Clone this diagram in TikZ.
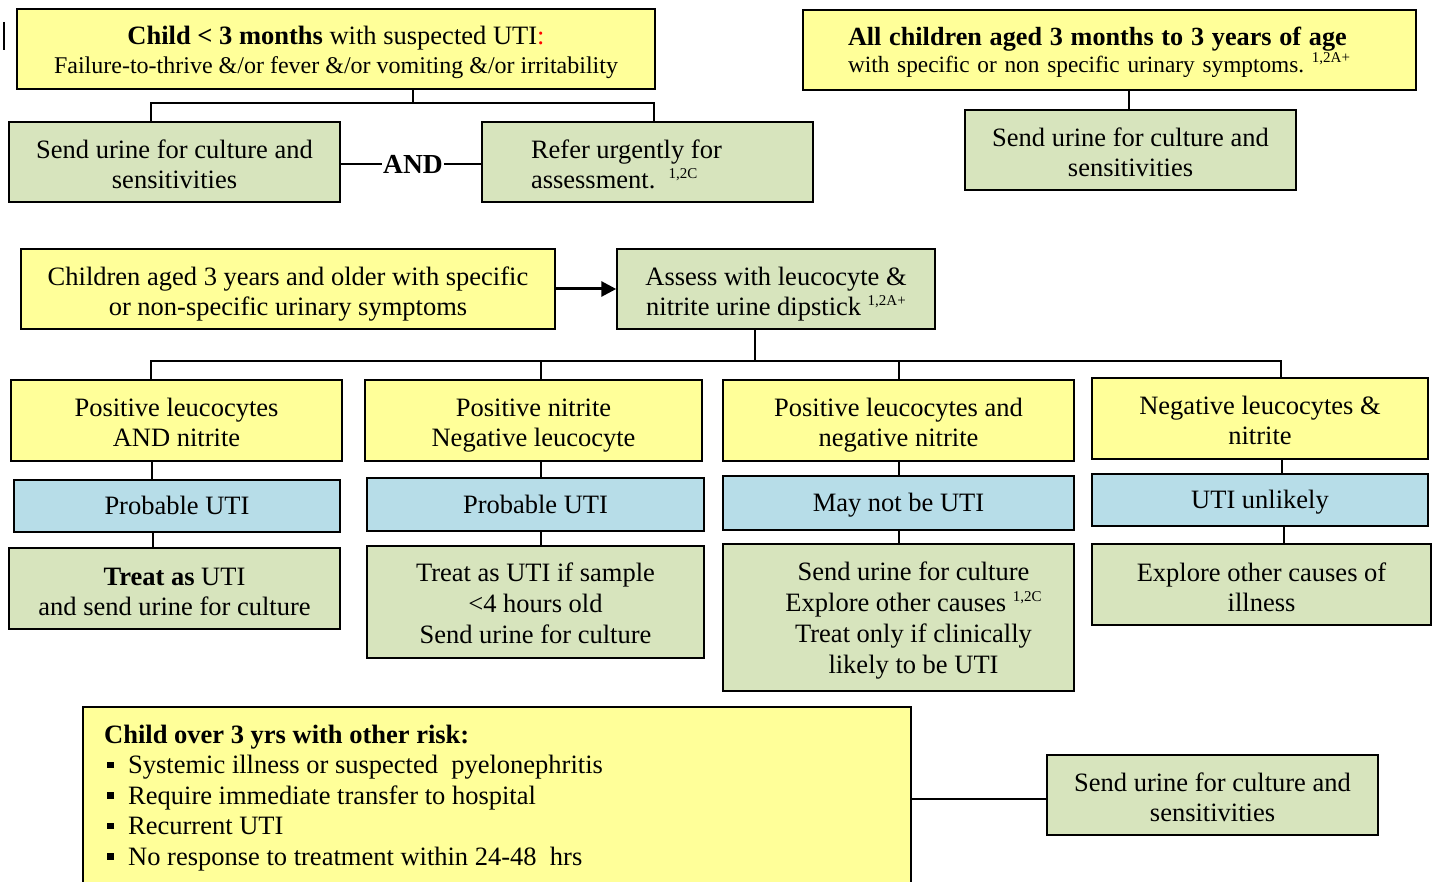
\documentclass[tikz,border=0pt]{standalone}
\usepackage{fontspec}
\setmainfont{Liberation Serif}
\usetikzlibrary{arrows.meta,shadows,calc}
\definecolor{yel}{HTML}{FFFF99}
\definecolor{grn}{HTML}{D7E4BD}
\definecolor{blu}{HTML}{B7DDE8}
\newcommand{\sups}[1]{{\fontsize{15}{15}\selectfont\raisebox{10pt}[0pt][0pt]{#1}}}
\newcommand{\bulsq}{\raisebox{5.5pt}{\rule{6.5pt}{6.5pt}}}
\newcommand{\tabC}[2][32pt]{\begin{tabular}{@{}c@{}}\rule{0pt}{#1}#2\end{tabular}}
\newcommand{\tabL}[2][32pt]{\begin{tabular}{@{}l@{}}\rule{0pt}{#1}#2\end{tabular}}
\begin{document}
\begin{tikzpicture}[x=1pt,y=-1pt,
  box/.style={draw=black, line width=1.5pt, inner sep=0pt,
    font=\fontsize{26.5}{30}\selectfont,
    drop shadow={shadow xshift=1.2pt, shadow yshift=-1.2pt, fill=black!40, opacity=1}},
  ybox/.style={box, fill=yel},
  gbox/.style={box, fill=grn},
  bbox/.style={box, fill=blu, execute at begin node={\rule{0pt}{26pt}}, execute at end node=\strut},
  conn/.style={line width=1.3pt}]
\useasboundingbox (0,0) rectangle (1438,882);
\clip (0,0) rectangle (1438,882);

% cursor mark
\draw[conn] (4,22) -- (4,50);

% ---------- top left ----------
\node[ybox, minimum width=638pt, minimum height=80pt, font=\fontsize{24}{29}\selectfont] (tl) at (336,49)
  {\tabC[29.7pt]{{\fontsize{26.5}{29}\selectfont\textbf{Child < 3 months} with suspected UTI{\color{red}:}}\\Failure-to-thrive \&/or fever \&/or vomiting \&/or irritability}};
\node[gbox, minimum width=331pt, minimum height=80pt] (g1) at (174.5,162)
  {\tabC{Send urine for culture and\\sensitivities}};
\node[gbox, minimum width=331pt, minimum height=80pt] (g2) at (647.5,162)
  {\tabL{\makebox[233pt][l]{Refer urgently for}\\assessment.\ \ \sups{1,2C}}};
\node[font=\fontsize{27.5}{30}\selectfont\bfseries, inner sep=1pt] (and) at (413,164) {AND};
\coordinate (tbus) at (0,103);
\draw[conn] ([xshift=77pt]tl.south) -- ([xshift=77pt]tl.south |- tbus);
\draw[conn] ([xshift=-23.5pt]g1.north) -- ([xshift=-23.5pt]g1.north |- tbus)
  -- ([xshift=6.5pt]g2.north |- tbus) -- ([xshift=6.5pt]g2.north);
\draw[conn] (g1.east |- and.west) -- (and.west);
\draw[conn] (and.east) -- (g2.west |- and.east);

% ---------- top right ----------
\node[ybox, minimum height=80pt, text width=523pt, inner xsep=45pt, inner ysep=0pt, align=left,
  font=\fontsize{23.3}{27}\selectfont,
  execute at begin node={\rule{0pt}{27pt}}, execute at end node=\strut] (tr) at (1109.5,50)
  {{\fontsize{26.2}{27}\selectfont\textbf{All children aged 3 months to 3 years of age}}\\with specific or non specific urinary symptoms.\ \sups{1,2A+}};
\node[gbox, minimum width=331pt, minimum height=80pt] (g3) at (1130.5,150)
  {\tabC{Send urine for culture and\\sensitivities}};
\draw[conn] ([xshift=-1.5pt]g3.north |- tr.south) -- ([xshift=-1.5pt]g3.north);

% ---------- middle ----------
\node[ybox, minimum width=534pt, minimum height=80pt] (y3) at (288,289)
  {\tabC{Children aged 3 years and older with specific\\or non-specific urinary symptoms}};
\node[gbox, minimum width=318pt, minimum height=80pt] (g4) at (776,289)
  {\tabC{Assess with leucocyte \&\\nitrite urine dipstick \sups{1,2A+}}};
\draw[line width=3pt, -{Triangle[length=15pt,width=15pt]}] (y3.east) -- (g4.west);

% ---------- row ----------
\node[ybox, minimum width=331pt, minimum height=81pt] (ya) at (176.5,420.5)
  {\tabC{Positive leucocytes\\AND nitrite}};
\node[ybox, minimum width=337pt, minimum height=81pt] (yb) at (533.5,420.5)
  {\tabC{Positive nitrite\\Negative leucocyte}};
\node[ybox, minimum width=351pt, minimum height=81pt] (yc) at (898.5,420.5)
  {\tabC{Positive leucocytes and\\negative nitrite}};
\node[ybox, minimum width=336pt, minimum height=81pt] (yd) at (1260,418.5)
  {\tabC{Negative leucocytes \&\\nitrite}};

\node[bbox, minimum width=326pt, minimum height=52pt] (ba) at (177,506) {Probable UTI};
\node[bbox, minimum width=337pt, minimum height=53pt] (bb) at (535.5,504.5) {Probable UTI};
\node[bbox, minimum width=351pt, minimum height=54pt] (bc) at (898.5,503) {May not be UTI};
\node[bbox, minimum width=336pt, minimum height=52pt] (bd) at (1260,500) {UTI unlikely};

\node[gbox, minimum width=331pt, minimum height=81pt] (ga) at (174.5,588.5)
  {\tabC{\textbf{Treat as} UTI\\and send urine for culture}};
\node[gbox, minimum width=337pt, minimum height=112pt, font=\fontsize{26.5}{31}\selectfont] (gb) at (535.5,602)
  {\tabC[30.5pt]{Treat as UTI if sample\\<4 hours old\\Send urine for culture}};
\node[gbox, minimum width=351pt, minimum height=147pt, font=\fontsize{26.5}{31}\selectfont] (gc) at (898.5,617.5)
  {\hspace*{30pt}\raisebox{-3pt}[\height][\depth]{\begin{tabular}{@{}c@{}}Send urine for culture\\Explore other causes\ \sups{1,2C}\\Treat only if clinically\\likely to be UTI\end{tabular}}};
\node[gbox, minimum width=339pt, minimum height=81pt] (gd) at (1261.5,584.5)
  {\tabC{Explore other causes of\\illness}};

\coordinate (bus) at (0,361);
\draw[conn] ([xshift=-21pt]g4.south) -- ([xshift=-21pt]g4.south |- bus);
\draw[conn] ([xshift=-25.5pt]ya.north) -- ([xshift=-25.5pt]ya.north |- bus)
  -- ([xshift=21pt]yd.north |- bus) -- ([xshift=21pt]yd.north);
\draw[conn] ([xshift=7.5pt]yb.north) -- ([xshift=7.5pt]yb.north |- bus);
\draw[conn] ([xshift=0.5pt]yc.north) -- ([xshift=0.5pt]yc.north |- bus);

\draw[conn] ([xshift=-24.5pt]ya.south) -- ([xshift=-24.5pt]ya.south |- ba.north);
\draw[conn] ([xshift=-24pt]ba.south) -- ([xshift=-24pt]ba.south |- ga.north);
\draw[conn] ([xshift=7.5pt]yb.south) -- ([xshift=7.5pt]yb.south |- bb.north);
\draw[conn] ([xshift=5.5pt]bb.south) -- ([xshift=5.5pt]bb.south |- gb.north);
\draw[conn] ([xshift=0.5pt]yc.south) -- ([xshift=0.5pt]yc.south |- bc.north);
\draw[conn] ([xshift=0.5pt]bc.south) -- ([xshift=0.5pt]bc.south |- gc.north);
\draw[conn] ([xshift=22pt]yd.south) -- ([xshift=22pt]yd.south |- bd.north);
\draw[conn] ([xshift=24pt]bd.south) -- ([xshift=24pt]bd.south |- gd.north);

% ---------- bottom ----------
\node[ybox, minimum width=828pt, minimum height=200pt] (yr) at (497,807) {};
\node[anchor=north west, inner sep=0pt, align=left, font=\fontsize{26.5}{30.5}\selectfont] (risk) at (104,724.5)
  {\textbf{Child over 3 yrs with other risk:}\\
   \makebox[24pt][l]{\hspace{3pt}\bulsq}Systemic illness or suspected\ \ pyelonephritis\\
   \makebox[24pt][l]{\hspace{3pt}\bulsq}Require immediate transfer to hospital\\
   \makebox[24pt][l]{\hspace{3pt}\bulsq}Recurrent UTI\\
   \makebox[24pt][l]{\hspace{3pt}\bulsq}No response to treatment within 24-48\ \ hrs};
\node[gbox, minimum width=331pt, minimum height=80pt] (gf) at (1212.5,795)
  {\tabC{Send urine for culture and\\sensitivities}};
\draw[conn] ([yshift=-4pt]gf.west -| yr.east) -- ([yshift=-4pt]gf.west);
\end{tikzpicture}
\end{document}
